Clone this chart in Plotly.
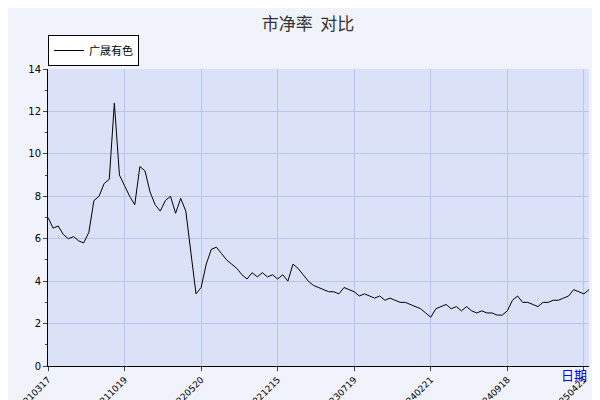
import plotly.graph_objects as go

tick_labels = ["20210317","20211019","20220520","20221215","20230719","20240221","20240918","20250423"]
tick_idx = [0,150,300,450,600,750,900,1050]
pb = [7.0,6.5,6.6,6.2,6.0,6.1,5.9,5.8,6.3,7.8,8.0,8.6,8.8,12.4,9.0,8.5,8.0,7.6,9.4,9.2,
      8.2,7.6,7.3,7.8,8.0,7.2,7.9,7.3,5.2,3.4,3.7,4.8,5.5,5.6,5.3,5.0,4.8,4.6,4.3,4.1,
      4.4,4.2,4.4,4.2,4.3,4.1,4.3,4.0,4.8,4.6,4.3,4.0,3.8,3.7,3.6,3.5,3.5,3.4,3.7,3.6,
      3.5,3.3,3.4,3.3,3.2,3.3,3.1,3.2,3.1,3.0,3.0,2.9,2.8,2.7,2.5,2.3,2.7,2.8,2.9,2.7,
      2.8,2.6,2.8,2.6,2.5,2.6,2.5,2.5,2.4,2.4,2.6,3.1,3.3,3.0,3.0,2.9,2.8,3.0,3.0,3.1,
      3.1,3.2,3.3,3.6,3.5,3.4,3.6]
idx = [i*10 for i in range(len(pb))]

fig = go.Figure(go.Scatter(x=idx, y=pb, mode="lines", name="广晟有色",
                           line=dict(color="black", width=1)))
fig.update_layout(
    width=600, height=400, margin=dict(l=40, r=19, t=61, b=42, autoexpand=False),
    paper_bgcolor="#f1f3fc", plot_bgcolor="#dbe1f7",
    font=dict(family="Noto Sans CJK SC", size=11, color="black"),
    title=dict(text="市净率  对比", x=0.5, y=0.975, xanchor="center", font=dict(size=17, color="#333")),
    showlegend=True,
    legend=dict(x=0, y=1.01, xref="paper", yref="paper", xanchor="left", yanchor="bottom",
                bgcolor="white", bordercolor="black", borderwidth=1, font=dict(size=11),
                itemwidth=30, tracegroupgap=0),
    xaxis=dict(range=[0, 1060], tickvals=tick_idx, ticktext=tick_labels, tickangle=-45,
               showgrid=True, gridcolor="#b8c6ec", ticks="outside", ticklen=4, automargin=False,
               showline=True, linecolor="black", tickfont=dict(size=9, family="DejaVu Sans"), zeroline=False),
    yaxis=dict(range=[0, 14], dtick=2, showgrid=True, gridcolor="#b8c6ec", ticks="outside",
               ticklen=4, showline=True, linecolor="black", zeroline=False, automargin=False,
               tickfont=dict(size=10, family="DejaVu Sans"), minor=dict(dtick=1, ticks="outside", ticklen=2)),
)
fig.add_annotation(text="日期", x=1.0, y=0, xref="paper", yref="paper", yshift=-20, xanchor="right",
                   showarrow=False, font=dict(color="blue", size=13))
fig.write_html("out.html")
